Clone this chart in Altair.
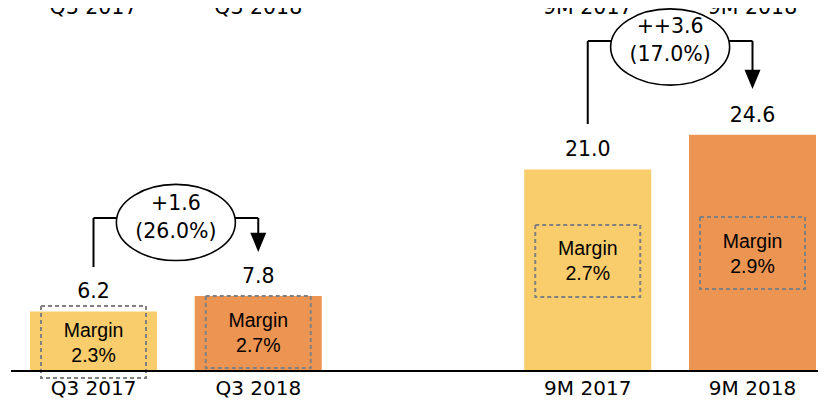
import altair as alt
import pandas as pd

# ---- values ----
categories = ["Q3 2017", "Q3 2018", "9M 2017", "9M 2018"]
slots = [0, 1, 3, 4]                      # position slots (slot 2 is the empty gap)
revenue = [6.2, 7.8, 21.0, 24.6]
margin = ["2.3%", "2.7%", "2.7%", "2.9%"]
year = ["2017", "2018", "2017", "2018"]
change_abs = ["+1.6", "++3.6"]
change_pct = ["(26.0%)", "(17.0%)"]
pair_from = [0, 3]
pair_to = [1, 4]

# ---- layout (data units on the value axis) ----
box_center = [3.02, 4.06, 11.46, 12.29]
bracket_level = [15.94, 34.375]
bracket_start = [10.83, 25.73]
arrow_center = [13.40, 30.375]
ellipse_center = [15.47, 33.75]
top_label_y = 37.19

FONT = "DejaVu Sans"
YELLOW = "#F9CD6B"
ORANGE = "#EC9452"

bars = pd.DataFrame({"cat": categories, "slot": slots, "value": revenue,
                     "margin": ["Margin\n" + m for m in margin], "year": year,
                     "box": box_center, "top": [top_label_y] * 4,
                     "zero": [0.0] * 4})
pairs = pd.DataFrame({
    "x0": pair_from, "x1": pair_to,
    "mid": [(a + b) / 2 for a, b in zip(pair_from, pair_to)],
    "level": bracket_level, "start": bracket_start, "arrow": arrow_center,
    "ell": ellipse_center,
    "txt": [a + "\n" + p for a, p in zip(change_abs, change_pct)],
})

xs = alt.Scale(domain=[-0.519, 4.3976], nice=False, zero=False, padding=0)
ys = alt.Scale(domain=[-3.0208, 37.8125], nice=False, zero=False, padding=0)

base = alt.Chart(bars)
X = alt.X("slot:Q", scale=xs, axis=None)
Y = alt.Y("value:Q", scale=ys, axis=None)
Y0 = alt.Y("zero:Q", scale=ys, axis=None)

bar_layer = base.mark_bar(size=127).encode(
    x=X, y=Y, y2="zero:Q",
    color=alt.Color("year:N", scale=alt.Scale(domain=["2017", "2018"], range=[YELLOW, ORANGE]), legend=None),
)

rect_path = "M -1 -0.686 L 1 -0.686 L 1 0.686 L -1 0.686 Z"
boxes = base.mark_point(shape=rect_path, size=11025, filled=False, color="#808080",
                        strokeWidth=2, strokeDash=[4, 3], opacity=1).encode(
    x=X, y=alt.Y("box:Q", scale=ys, axis=None))

margin_text = base.mark_text(font="Liberation Sans", fontSize=19.5, lineBreak="\n",
                             lineHeight=25, baseline="middle", align="center", dy=-11.5,
                             color="black").encode(
    x=X, y=alt.Y("box:Q", scale=ys, axis=None), text="margin:N")

baseline = base.mark_rule(color="black", strokeWidth=2).encode(
    x=alt.value(3), x2=alt.value(810), y=Y0)

value_text = base.mark_text(font=FONT, fontSize=20.5, baseline="middle", dy=-19,
                            color="black").encode(
    x=X, y=Y, text=alt.Text("value:Q", format=".1f"))

x_labels = base.mark_text(font=FONT, fontSize=20, baseline="alphabetic", dy=24,
                          color="black").encode(
    x=X, y=Y0, text="cat:N")

top_labels = base.mark_text(font=FONT, fontSize=20.5, baseline="alphabetic",
                            color="black").encode(
    x=X, y=alt.Y("top:Q", scale=ys, axis=None), text="cat:N")

pb = alt.Chart(pairs)
h_rule = pb.mark_rule(color="black", strokeWidth=2).encode(
    x=alt.X("x0:Q", scale=xs, axis=None), x2="x1:Q",
    y=alt.Y("level:Q", scale=ys, axis=None))
left_rule = pb.mark_rule(color="black", strokeWidth=2).encode(
    x=alt.X("x0:Q", scale=xs, axis=None),
    y=alt.Y("start:Q", scale=ys, axis=None), y2="level:Q")
right_rule = pb.mark_rule(color="black", strokeWidth=2).encode(
    x=alt.X("x1:Q", scale=xs, axis=None),
    y=alt.Y("level:Q", scale=ys, axis=None), y2="arrow:Q")
arrow = pb.mark_point(shape="M -1 -1.2 L 1 -1.2 L 0 1.2 Z", size=256, filled=True,
                      color="black", opacity=1).encode(
    x=alt.X("x1:Q", scale=xs, axis=None), y=alt.Y("arrow:Q", scale=ys, axis=None))

ell_path = "M -1 0 A 1 0.64 0 1 1 1 0 A 1 0.64 0 1 1 -1 0 Z"
ellipse = pb.mark_point(shape=ell_path, size=14161, filled=True, fill="white",
                        stroke="black", strokeWidth=1.6, opacity=1).encode(
    x=alt.X("mid:Q", scale=xs, axis=None), y=alt.Y("ell:Q", scale=ys, axis=None))
ell_text = pb.mark_text(font=FONT, fontSize=20.5, lineBreak="\n", lineHeight=28,
                        baseline="middle", dy=-14, color="black").encode(
    x=alt.X("mid:Q", scale=xs, axis=None), y=alt.Y("level:Q", scale=ys, axis=None),
    text="txt:N")

chart = alt.layer(
    bar_layer, boxes, margin_text, baseline, value_text, x_labels, top_labels,
    h_rule, left_rule, right_rule, arrow, ellipse, ell_text,
).properties(
    width=810, height=392,
    autosize=alt.AutoSizeParams(type="none"), padding=0,
).configure_view(stroke=None)

chart.save("out.html", embed_options={"renderer": "svg", "actions": False})
